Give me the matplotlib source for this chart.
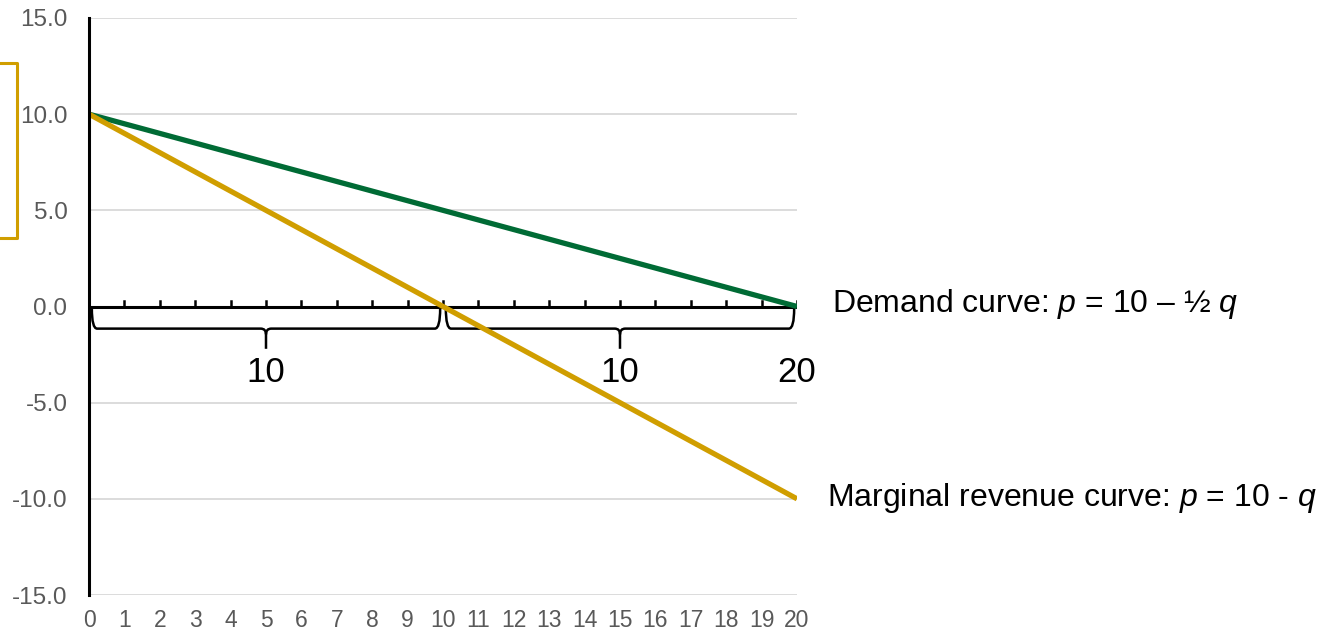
import matplotlib
matplotlib.use("Agg")
import matplotlib.pyplot as plt
from matplotlib.path import Path
from matplotlib.patches import PathPatch
from matplotlib.lines import Line2D

# ---- data ----
q = [0, 1, 2, 3, 4, 5, 6, 7, 8, 9, 10, 11, 12, 13, 14, 15, 16, 17, 18, 19, 20]
demand = [10, 9.5, 9, 8.5, 8, 7.5, 7, 6.5, 6, 5.5, 5, 4.5, 4, 3.5, 3, 2.5, 2, 1.5, 1, 0.5, 0]
marginal_revenue = [10, 9, 8, 7, 6, 5, 4, 3, 2, 1, 0, -1, -2, -3, -4, -5, -6, -7, -8, -9, -10]
y_ticks = [-15, -10, -5, 0, 5, 10, 15]
x_ticks = q
brace_spans = [(0, 10), (10, 20)]
brace_labels = ["10", "10"]
end_label = "20"
demand_label = "Demand curve: $p$ = 10 – ½ $q$"
mr_label = "Marginal revenue curve: $p$ = 10 - $q$"

GREEN = "#006B35"
GOLD = "#D09E00"
GRAY = "#595959"

plt.rcParams["font.family"] = ["Liberation Sans", "DejaVu Sans"]
plt.rcParams["mathtext.fontset"] = "custom"
plt.rcParams["mathtext.rm"] = "Liberation Sans"
plt.rcParams["mathtext.it"] = "Liberation Sans:italic"

fig = plt.figure(figsize=(13.28, 6.34), dpi=100)
ax = fig.add_axes([89 / 1328, 39 / 634, 708 / 1328, 577 / 634])
ax.set_xlim(0, 20)
ax.set_ylim(-15, 15)

for s in ["top", "right", "bottom"]:
    ax.spines[s].set_visible(False)
ax.spines["left"].set_linewidth(2.2)
ax.spines["left"].set_color("black")
ax.spines["left"].set_zorder(5)

ax.set_yticks(y_ticks)
ax.set_yticklabels([f"{v:.1f}" for v in y_ticks])
ax.set_xticks(x_ticks)
ax.set_xticklabels([str(v) for v in x_ticks])
ax.tick_params(axis="y", length=0, pad=15.5, labelsize=17.5, labelcolor=GRAY)
ax.tick_params(axis="x", length=0, pad=10, labelsize=16.5, labelcolor=GRAY)
ax.yaxis.grid(True, color="#D9D9D9", linewidth=1.3)
ax.set_axisbelow(True)

# horizontal axis at zero with small upward ticks
ax.plot([0, 20], [0, 0], color="black", lw=2.2, zorder=3, solid_capstyle="butt")
for x in q[1:]:
    ax.plot([x, x], [0, 0.3], color="black", lw=1.8, zorder=3)

# series lines
ax.plot(q, demand, color=GREEN, lw=3.8, zorder=4, solid_capstyle="butt")
ax.plot(q, marginal_revenue, color=GOLD, lw=3.8, zorder=4, solid_capstyle="butt")

# curly braces under the axis
def brace(x0, x1, ytop=-0.1, ymid=-1.15, ytip=-2.2, r=0.15):
    xm = (x0 + x1) / 2
    verts = [
        (x0, ytop), (x0, ymid), (x0 + r, ymid),
        (xm - r, ymid),
        (xm, ymid), (xm, ymid - 0.3),
        (xm, ytip),
        (xm, ymid - 0.3), (xm, ymid), (xm + r, ymid),
        (x1 - r, ymid),
        (x1, ymid), (x1, ytop),
    ]
    codes = [Path.MOVETO, Path.CURVE3, Path.CURVE3,
             Path.LINETO,
             Path.CURVE3, Path.CURVE3,
             Path.LINETO,
             Path.MOVETO, Path.CURVE3, Path.CURVE3,
             Path.LINETO,
             Path.CURVE3, Path.CURVE3]
    ax.add_patch(PathPatch(Path(verts, codes), fill=False, edgecolor="black",
                           lw=1.8, zorder=3, clip_on=False))

for (a, b), lab in zip(brace_spans, brace_labels):
    brace(a + 0.08, b - 0.08)
    ax.text((a + b) / 2, -3.45, lab, ha="center", va="center", fontsize=25, color="black")
ax.text(20, -3.45, end_label, ha="center", va="center", fontsize=25, color="black", clip_on=False)

# curve annotations
ax.text(20.98, 0.15, demand_label, ha="left", va="center", fontsize=23, color="black", clip_on=False)
ax.text(20.84, -9.95, mr_label, ha="left", va="center", fontsize=23, color="black", clip_on=False)

# gold bracket on the left edge
H = 634
bx = [0, 17 / 1328, 17 / 1328, 0]
by = [1 - 63 / H, 1 - 63 / H, 1 - 238 / H, 1 - 238 / H]
fig.add_artist(Line2D(bx, by, color=GOLD, lw=2.2, transform=fig.transFigure))

fig.savefig("out.png", dpi=100)
